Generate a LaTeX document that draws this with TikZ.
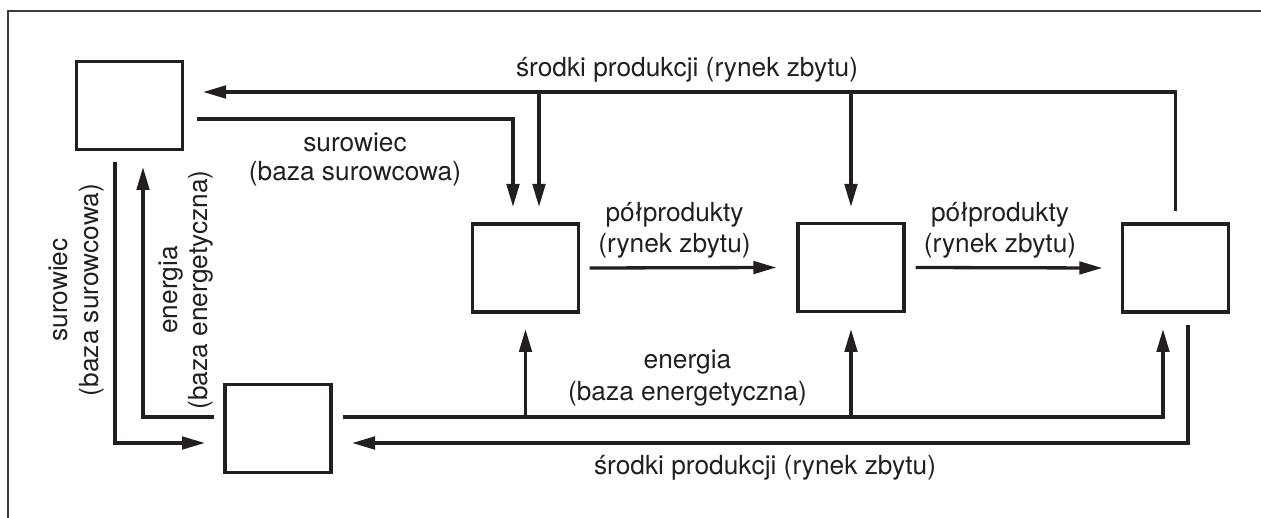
\documentclass[tikz,border=0pt]{standalone}
\usepackage{fontspec}
\setmainfont{TeX Gyre Heros}
\usetikzlibrary{arrows.meta,calc}
\definecolor{ink}{RGB}{35,31,32}
\definecolor{framec}{RGB}{60,60,60}
\begin{document}
\begin{tikzpicture}[x=1pt,y=-1pt,
  box/.style={draw=ink,line width=3.3pt,minimum width=106pt,minimum height=88pt,inner sep=0pt},
  conn/.style={draw=ink,line width=3.3pt},
  arr/.style={conn,-{Triangle[length=23pt,width=12.5pt]}},
  lbl/.style={text=ink,font=\fontsize{26.3}{30}\selectfont,inner sep=0pt,anchor=base},
  vlbl/.style={lbl,rotate=90}]
\useasboundingbox (0,0) rectangle (1261,518);
\draw[framec,line width=1.6pt] (8,518) -- (8,11) -- (1261,11);
% boxes
\node[box] (A) at (129.5,105.5) {};
\node[box] (B) at (278,428.5) {};
\node[box] (C) at (525.5,268) {};
\node[box] (D) at (851,267.5) {};
\node[box] (E) at (1175.5,268) {};
% top: srodki produkcji back to A
\draw[arr] ($(E)+(0,-57)$) |- ($(A)+(73.5,-13.5)$);
\draw[arr] ($(C)+(13.5,-176)$) -- ($(C)+(13.5,-61)$);
\draw[arr] ($(D)+(0,-175.5)$) -- ($(D)+(0,-60.5)$);
% surowiec from A to C
\draw[arr] ($(A)+(67.5,13.5)$) -| ($(C)+(-12.5,-61)$);
% polprodukty
\draw[arr] ($(C.east)+(9.5,0)$) -- ($(D.west)+(-20,0)$);
\draw[arr] ($(D.east)+(10,0)$) -- ($(E.west)+(-18.5,0)$);
% energia bottom
\draw[arr] ($(B)+(65,-11.5)$) -| ($(E)+(-12.5,61)$);
\draw[arr] ($(C)+(0,149)$) -- ($(C)+(0,61)$);
\draw[arr] ($(D)+(0,149.5)$) -- ($(D)+(0,61.5)$);
% srodki produkcji bottom
\draw[arr] ($(E)+(12.5,57)$) |- ($(B)+(74,14.5)$);
% left
\draw[arr] ($(A)+(-14.5,56.5)$) |- ($(B)+(-73,14.5)$);
\draw[arr] ($(B)+(-64,-11.5)$) -| ($(A)+(13.5,61.5)$);
% labels
\node[lbl] (t1) at (687,77) {środki produkcji (rynek zbytu)};
\node[lbl] (s1) at (355,152) {surowiec};
\node[lbl] (s2) at (355,181) {(baza surowcowa)};
\node[lbl] (p1) at (674.5,222) {półprodukty};
\node[lbl] (p2) at (674.5,253) {(rynek zbytu)};
\node[lbl] (q1) at (1000,222) {półprodukty};
\node[lbl] (q2) at (1000,253) {(rynek zbytu)};
\node[lbl] (e1) at (687.5,369) {energia};
\node[lbl] (e2) at (687.5,400) {(baza energetyczna)};
\node[lbl] (t2) at (765,474) {środki produkcji (rynek zbytu)};
\node[vlbl] (vs1) at (67,290) {surowiec};
\node[vlbl] (vs2) at (98,290) {(baza surowcowa)};
\node[vlbl] (ve1) at (177,290) {energia};
\node[vlbl] (ve2) at (207,290) {(baza energetyczna)};
\end{tikzpicture}
\end{document}
